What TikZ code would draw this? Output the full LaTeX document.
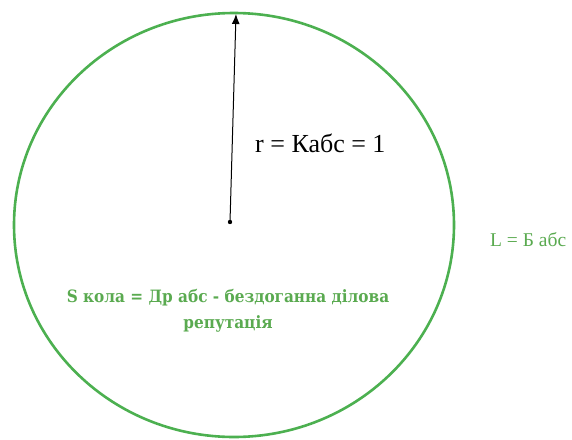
\documentclass[tikz,border=0pt]{standalone}
\usepackage{fontspec}
\usetikzlibrary{arrows.meta}
\setmainfont{Liberation Serif}
\newfontfamily\slabx{DejaVu Serif Condensed}
\definecolor{circgreen}{RGB}{76,176,80}
\definecolor{txtgreen}{RGB}{90,170,80}
\begin{document}
\begin{tikzpicture}[x=1pt,y=-1pt,
  greentext/.style={text=txtgreen, font=\slabx\bfseries\fontsize{17}{26}\selectfont, align=center},
  rtext/.style={font=\fontsize{26}{30}\selectfont}]
\useasboundingbox (0,0) rectangle (572,439);
\draw[circgreen, line width=2.6pt] (234,225) ellipse [x radius=220, y radius=212];
\coordinate (ctr) at (230,222);
\coordinate (top) at (236,14);
\fill (ctr) circle (2.2);
\draw[line width=1pt, -{Latex[length=10pt,width=8pt]}] (ctr) -- (top);
\node[rtext, anchor=west, inner sep=0] (r) at (255,143) {r = Кабс = 1};
\node[greentext] (s) at (228,311) {S кола = Др абс - бездоганна ділова\\репутація};
\node[text=txtgreen, font=\fontsize{19.5}{22}\selectfont, anchor=west, inner sep=0] (l) at (490,240) {L = Б абс};
\end{tikzpicture}
\end{document}
